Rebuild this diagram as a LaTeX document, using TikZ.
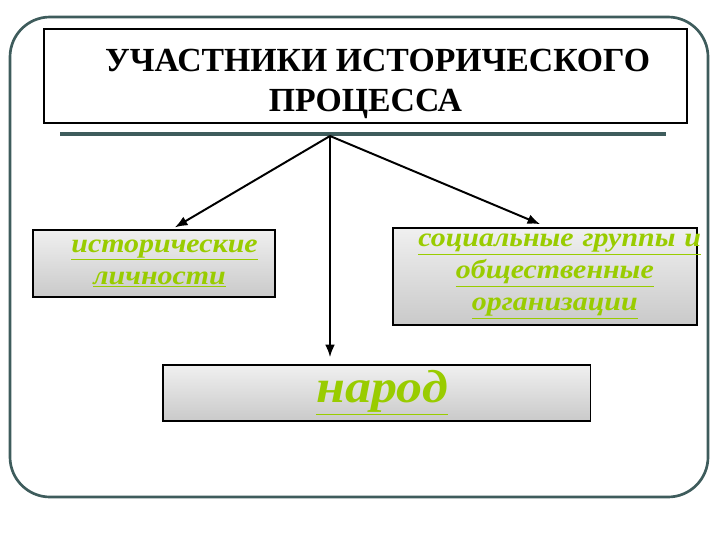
\documentclass[tikz,border=0pt]{standalone}
\usepackage{fontspec}
\setmainfont{Liberation Serif}
\usetikzlibrary{arrows,arrows.meta,positioning,calc}
\definecolor{frameteal}{RGB}{62,92,92}
\definecolor{leafgreen}{RGB}{153,204,0}
\tikzstyle{title} = [rectangle, draw, line width=1.3pt, minimum width=16.075cm, minimum height=2.15cm, align=center, font=\bfseries\fontsize{24}{28}\selectfont]
\tikzstyle{member} = [rectangle, draw, line width=0.8pt, inner xsep=0pt, top color=gray!12, bottom color=gray!42, align=center, text=leafgreen, font=\bfseries\itshape\fontsize{19}{23}\selectfont\addfontfeature{FakeStretch=1.12}]
\tikzstyle{line} = [draw, line width=1.4pt, -{Latex[length=9pt,width=7pt]}]
\newcommand{\ul}[1]{\underline{#1}}

\begin{document}
\begin{tikzpicture}[x=0.025cm, y=-0.025cm]
	\useasboundingbox (0,0) rectangle (720,540);
	% Frame
	\draw[frameteal, line width=1.9pt, rounded corners=1cm] (10,17) rectangle (708,497);
	
	% Title
	\node [title] (Title) at (365.5,76) {\rule{0pt}{27pt}\hspace*{0.6cm}УЧАСТНИКИ ИСТОРИЧЕСКОГО\\ПРОЦЕССА};
	\draw[frameteal, line width=2.2pt] (60,134) -- (666,134);
	\coordinate (hub) at (330,136);
	
	% Participants
	\node [member, minimum width=6.05cm, minimum height=1.675cm, text width=6.05cm] (persons) at (154,263.5) {\hspace*{15pt}\ul{исторические}\\\hspace*{8pt}\ul{личности}};
	\node [member, minimum width=7.6cm, minimum height=2.425cm, text width=7.6cm] (groups) at (545,276.5) {\hspace*{18pt}\ul{социальные группы и}\\\hspace*{14pt}\ul{общественные}\\\hspace*{14pt}\ul{организации}};
	\node [member, minimum width=10.675cm, minimum height=1.4cm, font=\bfseries\itshape\fontsize{33}{36}\selectfont\addfontfeature{FakeStretch=1.12}] (people) at (376.5,393) {\hspace*{8pt}\ul{народ}};
	
	% Paths
	\path [line] (hub) -- ([xshift=0.52cm, yshift=0.05cm]persons.north);
	\path [line] (hub) -- ([yshift=0.18cm]hub |- people.north);
	\path [line] (hub) -- ([xshift=-0.12cm, yshift=0.08cm]groups.north);
\end{tikzpicture}
\end{document}
